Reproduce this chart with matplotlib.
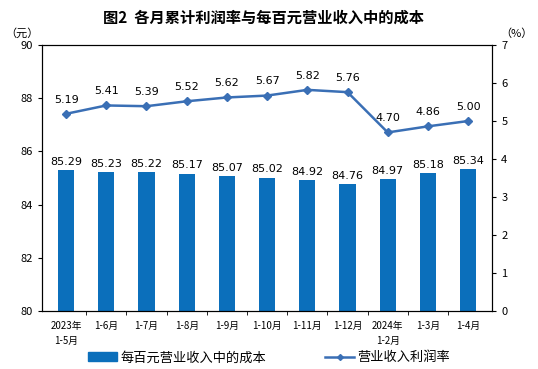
import matplotlib
matplotlib.use('Agg')
import matplotlib.pyplot as plt
from matplotlib.patches import Patch
from matplotlib.lines import Line2D

plt.rcParams['font.family'] = ['Noto Sans CJK SC', 'DejaVu Sans']

# ---------------------------
# Data
# ---------------------------
months = ['2023年\n1-5月', '1-6月', '1-7月', '1-8月', '1-9月', '1-10月',
          '1-11月', '1-12月', '2024年\n1-2月', '1-3月', '1-4月']
cost_per_100 = [85.29, 85.23, 85.22, 85.17, 85.07, 85.02,
                84.92, 84.76, 84.97, 85.18, 85.34]
profit_rate = [5.19, 5.41, 5.39, 5.52, 5.62, 5.67,
               5.82, 5.76, 4.70, 4.86, 5.00]
left_ticks = [80, 82, 84, 86, 88, 90]
right_ticks = [0, 1, 2, 3, 4, 5, 6, 7]

bar_color = '#0b6fbb'
line_color = '#3a6fb5'

fig = plt.figure(figsize=(5.38, 3.69), dpi=100)
ax = fig.add_axes([0.078, 0.157, 0.837, 0.721])
ax2 = ax.twinx()

x = list(range(len(months)))
ax.bar(x, cost_per_100, width=0.4, color=bar_color, zorder=2)
for xi, v in zip(x, cost_per_100):
    ax.text(xi, v + 0.12, f'{v:.2f}', ha='center', va='bottom', fontsize=8,
            family='DejaVu Sans')

ax.set_ylim(80, 90)
ax.set_xlim(-0.6, len(months) - 0.4)
ax.set_yticks(left_ticks)
ax.set_xticks(x)
ax.set_xticklabels(months, fontsize=7, linespacing=1.7)
ax.tick_params(axis='x', length=0, pad=7)
ax.set_xticks([i + 0.5 for i in x[:-1]], minor=True)
ax.tick_params(axis='x', which='minor', length=3, direction='out')
ax.tick_params(axis='y', labelsize=8, length=3, direction='out')

ax2.plot(x, profit_rate, color=line_color, marker='D', markersize=4, linewidth=1.8, zorder=3)
for xi, v in zip(x, profit_rate):
    ax2.text(xi, v + 0.24, f'{v:.2f}', ha='center', va='bottom', fontsize=8,
             family='DejaVu Sans')
ax2.set_ylim(0, 7)
ax2.set_yticks(right_ticks)
ax2.tick_params(axis='y', labelsize=8, length=3, direction='out')

for a in (ax, ax2):
    for s in a.spines.values():
        s.set_color('black')
        s.set_linewidth(0.8)

fig.text(0.49, 0.952, '图2  各月累计利润率与每百元营业收入中的成本', ha='center', va='center',
         fontsize=11, fontweight='bold')
fig.text(0.04, 0.91, '（元）', ha='center', va='center', fontsize=8)
fig.text(0.96, 0.91, '（%）', ha='center', va='center', fontsize=8)

handles = [Patch(color=bar_color),
           Line2D([0], [0], color=line_color, marker='D', markersize=3, linewidth=1.8)]
fig.legend(handles, ['每百元营业收入中的成本', '营业收入利润率'], loc='center',
           bbox_to_anchor=(0.5, 0.03), ncol=2, frameon=False, fontsize=9.5,
           columnspacing=4.5, handlelength=2.2, handletextpad=0.2)

fig.savefig('out.png', dpi=100)
